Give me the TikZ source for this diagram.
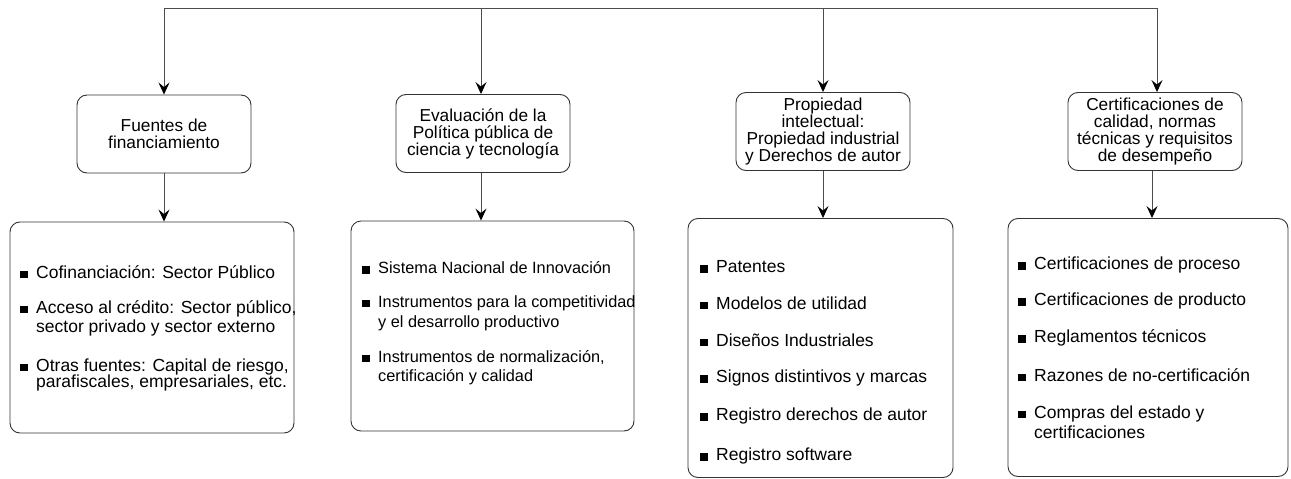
\documentclass[tikz,border=0pt]{standalone}
\usepackage{fontspec}
\setmainfont{Liberation Sans}
\usetikzlibrary{arrows.meta,positioning}

\newcommand{\vineta}{\rule{7.5pt}{7.5pt}\hspace{8.5pt}}
\newcommand{\sangria}{\hspace*{16pt}}

\begin{document}
\begin{tikzpicture}[x=1pt,y=-1pt]
      \tikzstyle{tema} = [rectangle, rounded corners=10pt, draw=black!80, line width=0.9pt, minimum width=174pt, minimum height=78pt, align=center, inner sep=1pt, font=\fontsize{17.3}{17}\selectfont]
      \tikzstyle{lista} = [rectangle, rounded corners=10pt, draw=black!80, line width=0.9pt]
      \tikzstyle{punto} = [anchor=west, align=left, inner sep=0pt, font=\fontsize{17.5}{19}\selectfont]
      \tikzstyle{flecha} = [draw=black!70, line width=0.9pt, -{Stealth[length=12pt,width=11pt,inset=4.5pt,color=black]}]

      \useasboundingbox (0,0) rectangle (1291,479);

      % linea superior
      \coordinate (t1) at (164,8);
      \coordinate (t2) at (481,8);
      \coordinate (t3) at (823,8);
      \coordinate (t4) at (1157,8);

      % temas
      \node[tema] (f1) at (164,134) {Fuentes de\\financiamiento};
      \node[tema] (f2) at (483,133.5) {Evaluación de la\\Política pública de\\ciencia y tecnología};
      \node[tema] (f3) at (823,131.5) {Propiedad\\intelectual:\\Propiedad industrial\\y Derechos de autor};
      \node[tema] (f4) at (1155,131.5) {Certificaciones de\\calidad, normas\\técnicas y requisitos\\de desempeño};

      % listas
      \node[lista, minimum width=284pt, minimum height=211pt] (l1) at (152,327.5) {};
      \node[lista, minimum width=283pt, minimum height=210pt] (l2) at (492.5,326) {};
      \node[lista, minimum width=265pt, minimum height=259pt] (l3) at (820.5,348) {};
      \node[lista, minimum width=280pt, minimum height=258pt] (l4) at (1148,347.5) {};

      \draw[draw=black!70, line width=0.9pt] (t1) -- (t4);
      \draw[flecha] (t1) -- (f1.north);
      \draw[flecha] (t2) -- (t2 |- f2.north);
      \draw[flecha] (t3) -- (f3.north);
      \draw[flecha] (t4) -- (t4 |- f4.north);

      \draw[flecha] (f1.south) -- (f1 |- l1.north);
      \draw[flecha] (t2 |- f2.south) -- (t2 |- l2.north);
      \draw[flecha] (f3.south) -- (f3 |- l3.north);
      \draw[flecha] (1152,171) coordinate (b4) -- (b4 |- l4.north);

      % fuentes
      \node[punto] (a1) at (20,272) {\vineta Cofinanciación: Sector Público};
      \node[punto] (a2) at (20,318) {\vineta Acceso al crédito: Sector público,\\\sangria sector privado y sector externo};
      \node[punto, font=\fontsize{17.5}{16.5}\selectfont] (a3) at (20,375) {\vineta Otras fuentes: Capital de riesgo,\\\sangria parafiscales, empresariales, etc.};

      % evaluacion
      \node[punto, font=\fontsize{16.3}{20}\selectfont] (b1) at (362,268) {\vineta Sistema Nacional de Innovación};
      \node[punto, font=\fontsize{16.3}{20}\selectfont] (b2) at (362,313) {\vineta Instrumentos para la competitividad\\\sangria y el desarrollo productivo};
      \node[punto, font=\fontsize{16.3}{19}\selectfont] (b3) at (362,367.5) {\vineta Instrumentos de normalización,\\\sangria certificación y calidad};

      % propiedad intelectual
      \node[punto] (c1) at (700,267) {\vineta Patentes};
      \node[punto] (c2) at (700,303) {\vineta Modelos de utilidad};
      \node[punto] (c3) at (700,340) {\vineta Diseños Industriales};
      \node[punto] (c4) at (700,378) {\vineta Signos distintivos y marcas};
      \node[punto] (c5) at (700,416) {\vineta Registro derechos de autor};
      \node[punto] (c6) at (700,456) {\vineta Registro software};

      % certificaciones
      \node[punto] (d1) at (1018,265) {\vineta Certificaciones de proceso};
      \node[punto] (d2) at (1018,301) {\vineta Certificaciones de producto};
      \node[punto] (d3) at (1018,338) {\vineta Reglamentos técnicos};
      \node[punto] (d4) at (1018,375) {\vineta Razones de no-certificación};
      \node[punto, font=\fontsize{17.5}{20}\selectfont] (d5) at (1018,422) {\vineta Compras del estado y\\\sangria certificaciones};
    \end{tikzpicture}
\end{document}
